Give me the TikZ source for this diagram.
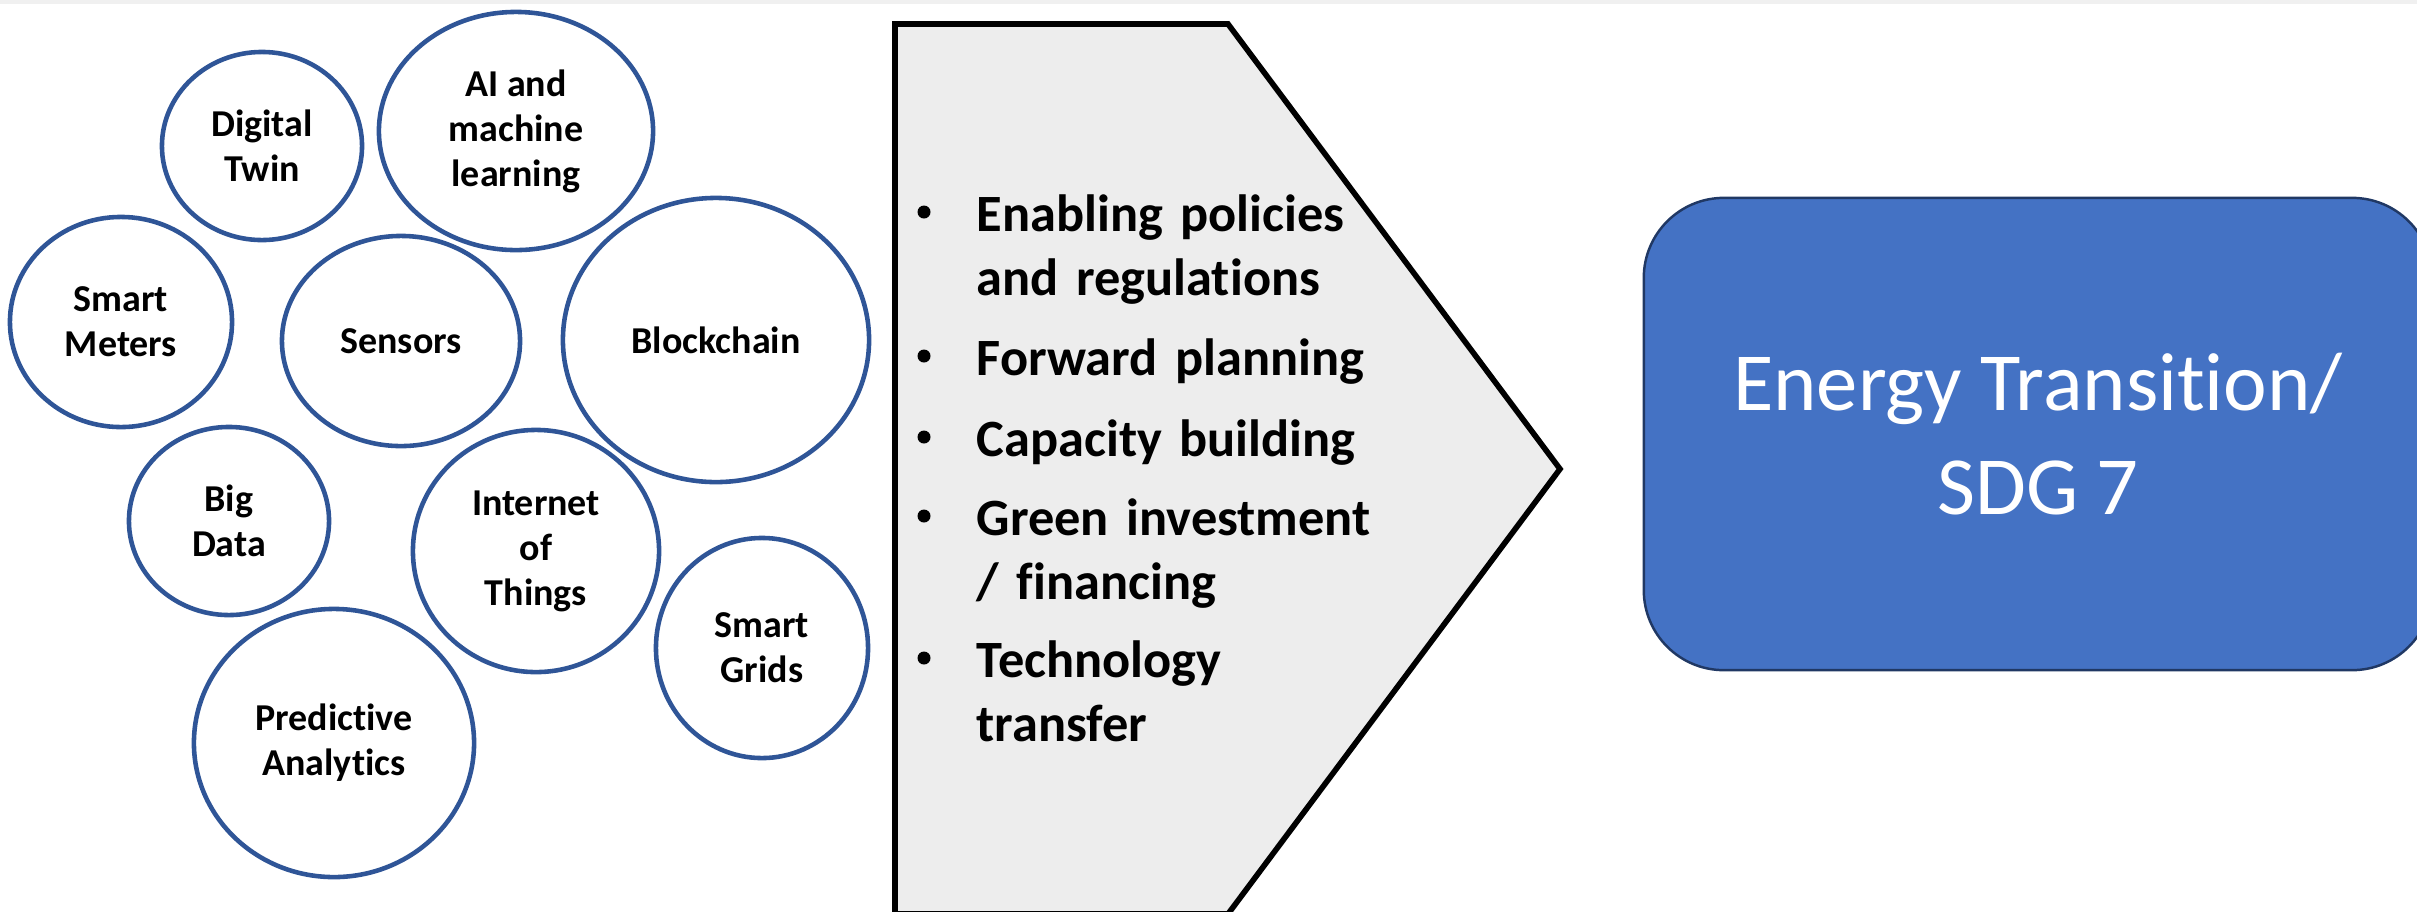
\documentclass[tikz,border=0pt]{standalone}
\usepackage{fontspec}
\setmainfont{Carlito}[Ligatures=CommonOff]
\usetikzlibrary{positioning, shapes.geometric, calc}
\definecolor{colour_ring}{HTML}{2F5597}
\definecolor{colour_arrow}{HTML}{EDEDED}
\definecolor{colour_goal}{HTML}{4472C4}
\definecolor{colour_goal_edge}{HTML}{203864}
\definecolor{colour_strip}{HTML}{F0F0F0}

\begin{document}
\begin{tikzpicture}[
    x=0.01cm, y=-0.01cm,
    bubble/.style={ellipse, draw=colour_ring, line width=1.3pt, fill=white,
                   inner sep=0pt, align=center,
                   font=\bfseries\fontsize{10.8}{12.8}\selectfont},
    listitem/.style={anchor=base west, inner sep=0pt, text width=6cm, align=left,
                     font=\bfseries\fontsize{14.9}{18.2}\selectfont},
    bulletdot/.style={circle, fill=black, inner sep=0pt, minimum size=0.13cm},
    goal/.style={rectangle, rounded corners=0.8cm, fill=colour_goal,
                 draw=colour_goal_edge, line width=0.7pt, align=center, text=white,
                 font=\fontsize{23.5}{29.6}\selectfont}
]
\useasboundingbox (0,0) rectangle (2417,911);
\clip (0,0) rectangle (2417,911);

% thin strip along the top
\fill[colour_strip] (0,0) rectangle (2417,4);

% Technology bubbles
\node[bubble, minimum width=2cm, minimum height=1.88cm] (twin) at (262,146) {Digital\\Twin};
\node[bubble, minimum width=2.74cm, minimum height=2.38cm] (aiml) at (516,131) {AI and\\machine\\learning};
\node[bubble, minimum width=2.22cm, minimum height=2.1cm] (meters) at (121,322) {Smart\\Meters};
\node[bubble, minimum width=2.38cm, minimum height=2.1cm] (sensors) at (401,341) {Sensors};
\node[bubble, minimum width=3.06cm, minimum height=2.84cm] (chain) at (716,340) {Blockchain};
\node[bubble, minimum width=2cm, minimum height=1.88cm] (bigdata) at (229,521) {Big\\Data};
\node[bubble, minimum width=2.46cm, minimum height=2.42cm] (iot) at (536,551) {Internet\\of\\Things};
\node[bubble, minimum width=2.12cm, minimum height=2.2cm] (grids) at (762,648) {Smart\\Grids};
\node[bubble, minimum width=2.8cm, minimum height=2.68cm] (predict) at (334,743) {Predictive\\Analytics};

% Chevron with the enablers
\draw[fill=colour_arrow, line width=1.6pt] (895,24) -- (1228,24) -- (1560,469)
    -- (1228,914) -- (895,914) -- cycle;

\node[listitem] (policy) at (976,231) {Enabling policies\\and regulations};
\node[listitem] (plan) at (976,375) {Forward planning};
\node[listitem] (capacity) at (976,456) {Capacity building};
\node[listitem] (invest) at (976,535) {Green investment\\/ financing};
\node[listitem] (transfer) at (976,677) {Technology\\transfer};

\node[bulletdot] at ($(policy.base west)+(-52,-19)$) {};
\node[bulletdot] at ($(plan.base west)+(-52,-19)$) {};
\node[bulletdot] at ($(capacity.base west)+(-52,-19)$) {};
\node[bulletdot] at ($(invest.base west)+(-52,-19)$) {};
\node[bulletdot] at ($(transfer.base west)+(-52,-19)$) {};

% Goal box
\node[goal, minimum width=7.88cm, minimum height=4.72cm] (sdg) at (2038,434)
     {Energy Transition/\\SDG 7};

\end{tikzpicture}
\end{document}
